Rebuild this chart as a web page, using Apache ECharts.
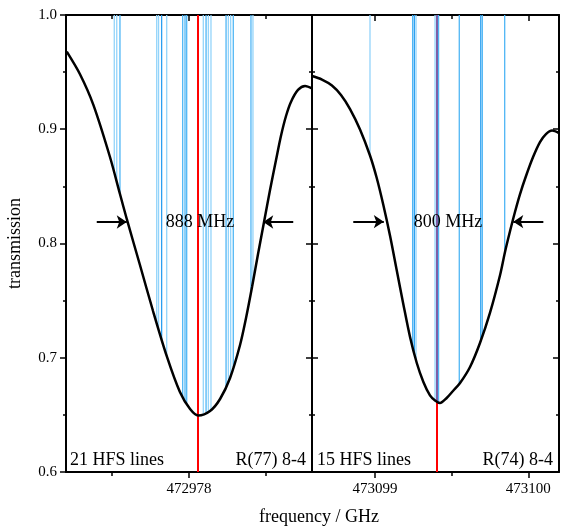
<!DOCTYPE html>
<html>
<head>
<meta charset="utf-8">
<script src="https://cdn.jsdelivr.net/npm/echarts@6/dist/echarts.min.js"></script>
<style>
  html, body { margin: 0; padding: 0; background: #fff; }
  #chart { width: 581px; height: 528px; }
</style>
</head>
<body>
<div id="chart"></div>
<script>
// transmission profile, R(77) 8-4
const leftFreq = [472977.205, 472977.291, 472977.378, 472977.486, 472977.551, 472977.597, 472977.681,
  472977.766, 472977.857, 472977.941, 472978.007, 472978.060, 472978.137, 472978.202,
  472978.267, 472978.332, 472978.371, 472978.410, 472978.449, 472978.488, 472978.527, 472978.566,
  472978.598, 472978.631, 472978.663, 472978.709, 472978.755, 472978.800]
const leftTrans = [0.9679, 0.9481, 0.9213, 0.8757, 0.8433, 0.8206, 0.7812,
  0.7409, 0.7007, 0.6700, 0.6551, 0.6495, 0.6534, 0.6639,
  0.6823, 0.7112, 0.7348, 0.7619, 0.7908, 0.8188, 0.8468, 0.8731,
  0.8941, 0.9116, 0.9239, 0.9344, 0.9379, 0.9357]

// transmission profile, R(74) 8-4
const rightFreq = [473098.590, 473098.655, 473098.720, 473098.779, 473098.838, 473098.903, 473098.968,
  473099.012, 473099.055, 473099.099, 473099.142, 473099.185, 473099.229, 473099.273, 473099.316,
  473099.359, 473099.392, 473099.424, 473099.468, 473099.509, 473099.555, 473099.620, 473099.685,
  473099.750, 473099.816, 473099.848, 473099.881, 473099.913, 473099.946, 473099.985, 473100.031,
  473100.076, 473100.115, 473100.155, 473100.200]
const rightTrans = [0.9466, 0.9435, 0.9383, 0.9300, 0.9177, 0.8998, 0.8770,
  0.8573, 0.8337, 0.8066, 0.7768, 0.7471, 0.7182, 0.6954, 0.6788,
  0.6670, 0.6626, 0.6604, 0.6648, 0.6709, 0.6779, 0.6919, 0.7129,
  0.7392, 0.7724, 0.7926, 0.8109, 0.8276, 0.8433, 0.8591, 0.8757,
  0.8888, 0.8958, 0.8989, 0.8967]

// hyperfine components: position, where the stick meets the profile, shade
const leftHfsFreq = [472977.514, 472977.530, 472977.551, 472977.790, 472977.802, 472977.822, 472977.855,
  472977.959, 472977.974, 472977.985, 472978.093, 472978.111, 472978.126, 472978.143,
  472978.241, 472978.256, 472978.271, 472978.288, 472978.403, 472978.416]
const leftHfsEnd = [0.8618, 0.8540, 0.8433, 0.7302, 0.7251, 0.7159, 0.7015,
  0.6660, 0.6626, 0.6600, 0.6511, 0.6521, 0.6528, 0.6544,
  0.6749, 0.6791, 0.6843, 0.6918, 0.7574, 0.7667]
const leftHfsShade = [0, 0, 1, 0, 0, 2, 0, 1, 1, 1, 0, 1, 0, 0, 1, 0, 0, 1, 1, 0]

const rightHfsFreq = [473098.968, 473099.246, 473099.257, 473099.268, 473099.392, 473099.415,
  473099.550, 473099.690, 473099.700, 473099.846]
const rightHfsEnd = [0.8770, 0.7090, 0.7035, 0.6978, 0.6626, 0.6610, 0.6772, 0.7147, 0.7189, 0.7913]
const rightHfsShade = [0, 1, 2, 0, 0, 1, 1, 2, 1, 1]

const leftCentre = 472978.059
const rightCentre = 473099.403
const rightCentreDip = 0.6618

// FWHM arrows: [tail, head] frequencies and height
const leftArrows = [[472977.400, 472977.595], [472978.678, 472978.483]]
const leftArrowY = 0.8188
const rightArrows = [[473098.859, 473099.058], [473100.098, 473099.902]]
const rightArrowY = 0.8191

const leftRange = [472977.2, 472978.8]
const rightRange = [473098.59, 473100.2]
const leftMajor = [472978]
const leftMinor = [472977.5, 472978.5]
const rightMajor = [473099, 473100]
const rightMinor = [473099.5]
const yRange = [0.6, 1.0]

const shades = ['#93d4fa', '#4fb6f5', '#2b9ff0']
const serif = '"Liberation Serif", "DejaVu Serif", serif'

const chart = echarts.init(document.getElementById('chart'))

function xAxes(gridIndex, range, major, minor) {
  const base = { gridIndex, type: 'value', min: range[0], max: range[1], splitLine: { show: false } }
  const line = { show: true, lineStyle: { color: '#000', width: 2 } }
  const tickStyle = { color: '#000', width: 1.5 }
  return [
    { ...base, position: 'bottom', axisLine: line,
      axisTick: { show: true, customValues: major, length: 6, lineStyle: tickStyle },
      axisLabel: { show: true, customValues: major, formatter: v => String(v), margin: 10,
        fontFamily: serif, fontSize: 15, color: '#000' } },
    { ...base, position: 'bottom', axisLine: { show: false },
      axisTick: { show: true, customValues: minor, length: 4, lineStyle: tickStyle },
      axisLabel: { show: false } },
    { ...base, position: 'top', axisLine: line,
      axisTick: { show: true, inside: true, customValues: major, length: 6, lineStyle: tickStyle },
      axisLabel: { show: false } },
    { ...base, position: 'top', axisLine: { show: false },
      axisTick: { show: true, inside: true, customValues: minor, length: 4, lineStyle: tickStyle },
      axisLabel: { show: false } },
  ]
}

function yAxis(gridIndex, position, inside, labels) {
  return {
    gridIndex, type: 'value', position, min: yRange[0], max: yRange[1], interval: 0.1,
    axisLine: { show: true, lineStyle: { color: '#000', width: 2 } },
    axisTick: { show: true, inside, length: 6, lineStyle: { color: '#000', width: 1.5 } },
    minorTick: { show: true, splitNumber: 2, length: 3, lineStyle: { color: '#000', width: 1.5 } },
    splitLine: { show: false },
    axisLabel: { show: labels, formatter: v => v.toFixed(1), margin: 9,
      fontFamily: serif, fontSize: 15, color: '#000' },
    name: labels ? 'transmission' : '',
    nameLocation: 'middle', nameGap: 42,
    nameTextStyle: { fontFamily: serif, fontSize: 18, color: '#000' },
  }
}

function zip(a, b, c) {
  return a.map((v, i) => c ? [v, b[i], c[i]] : [v, b[i]])
}

function stickSeries(xi, yi, freq, end, shade) {
  return {
    type: 'custom', xAxisIndex: xi, yAxisIndex: yi, silent: true, z: 1,
    data: zip(freq, end, shade),
    renderItem: (params, api) => {
      const top = api.coord([api.value(0), yRange[1]])
      const bot = api.coord([api.value(0), api.value(1)])
      return {
        type: 'line',
        shape: { x1: top[0], y1: top[1], x2: bot[0], y2: bot[1] },
        style: { stroke: shades[api.value(2)], lineWidth: 1.3 },
      }
    },
  }
}

function arrowSeries(xi, yi, arrows, y) {
  return {
    type: 'lines', coordinateSystem: 'cartesian2d', xAxisIndex: xi, yAxisIndex: yi, z: 4,
    symbol: ['none', 'arrow'], symbolSize: 10, silent: true,
    lineStyle: { color: '#000', width: 2, opacity: 1 },
    data: arrows.map(a => ({ coords: [[a[0], y], [a[1], y]] })),
  }
}

function curveSeries(xi, yi, freq, trans) {
  return {
    type: 'line', xAxisIndex: xi, yAxisIndex: yi, z: 3, smooth: 0.3,
    symbol: 'none', data: zip(freq, trans),
    lineStyle: { color: '#000', width: 2.5 }, silent: true,
  }
}

const textStyle = (text, x, y, align) => ({
  type: 'text', x, y, silent: true, z: 10,
  style: { text, fill: '#000', font: '18px ' + serif, textAlign: align, textVerticalAlign: 'middle' },
})

chart.setOption({
  animation: false,
  backgroundColor: '#fff',
  grid: [
    { left: 66, top: 15, width: 246, height: 457 },
    { left: 312, top: 15, width: 247, height: 457 },
  ],
  xAxis: [
    ...xAxes(0, leftRange, leftMajor, leftMinor),
    ...xAxes(1, rightRange, rightMajor, rightMinor),
  ],
  yAxis: [
    yAxis(0, 'left', false, true),
    yAxis(0, 'right', true, false),
    yAxis(1, 'left', true, false),
    yAxis(1, 'right', true, false),
  ],
  series: [
    stickSeries(0, 0, leftHfsFreq, leftHfsEnd, leftHfsShade),
    stickSeries(4, 2, rightHfsFreq, rightHfsEnd, rightHfsShade),
    {
      ...curveSeries(0, 0, leftFreq, leftTrans),
      markLine: {
        silent: true, symbol: 'none', label: { show: false }, z: 2,
        lineStyle: { color: '#ff0000', width: 2, type: 'solid' },
        data: [{ xAxis: leftCentre }],
      },
    },
    {
      ...curveSeries(4, 2, rightFreq, rightTrans),
      markLine: {
        silent: true, symbol: 'none', label: { show: false }, z: 2,
        data: [
          [{ coord: [rightCentre, yRange[0]], lineStyle: { color: '#ff0000', width: 2, type: 'solid' } },
           { coord: [rightCentre, rightCentreDip] }],
          [{ coord: [rightCentre, rightCentreDip], lineStyle: { color: '#7d5ea6', width: 2, type: 'solid' } },
           { coord: [rightCentre, yRange[1]] }],
        ],
      },
    },
    arrowSeries(0, 0, leftArrows, leftArrowY),
    arrowSeries(4, 2, rightArrows, rightArrowY),
  ],
  graphic: [
    textStyle('888 MHz', 200, 222, 'center'),
    textStyle('800 MHz', 448, 222, 'center'),
    textStyle('21 HFS lines', 70, 460, 'left'),
    textStyle('R(77) 8-4', 306, 460, 'right'),
    textStyle('15 HFS lines', 317, 460, 'left'),
    textStyle('R(74) 8-4', 553, 460, 'right'),
    textStyle('frequency / GHz', 319, 517, 'center'),
  ],
})
</script>
</body>
</html>
